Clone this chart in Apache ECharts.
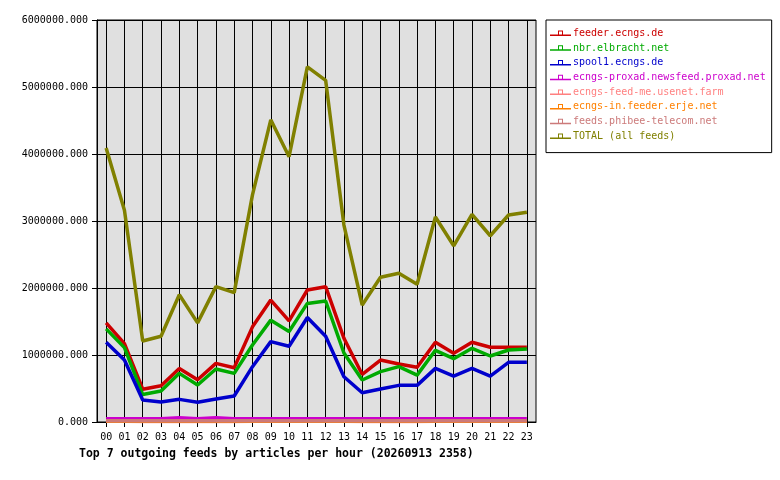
<!DOCTYPE html>
<html>
<head>
<meta charset="UTF-8">
<title>Top 7 outgoing feeds</title>
<script src="https://cdn.jsdelivr.net/npm/echarts@6/dist/echarts.min.js"></script>
<style>
  html, body { margin: 0; padding: 0; background: #fff; }
  #chart { width: 780px; height: 480px; }
</style>
</head>
<body>
<div id="chart"></div>
<script>
// hours of the day
var hours = ['00','01','02','03','04','05','06','07','08','09','10','11',
             '12','13','14','15','16','17','18','19','20','21','22','23'];

// articles per hour
var feederEcngs = [1480000,1170000,490000,540000,800000,630000,875000,810000,1420000,1820000,1510000,1970000,
                   2020000,1250000,710000,925000,866000,816000,1190000,1025000,1190000,1115000,1115000,1115000];
var nbrElbracht = [1390000,1110000,410000,463000,726000,552000,791000,726000,1150000,1520000,1350000,1770000,
                   1806000,1030000,627000,751000,826000,700000,1070000,945000,1100000,985000,1075000,1090000];
var spool1Ecngs = [1190000,925000,328000,300000,338000,294000,343000,388000,826000,1200000,1130000,1560000,
                   1280000,676000,437000,493000,547000,547000,800000,686000,800000,686000,890000,890000];
var proxad      = [50000,50000,50000,50000,65000,50000,65000,50000,50000,50000,50000,50000,
                   50000,50000,50000,50000,50000,50000,50000,50000,50000,50000,50000,50000];
var usenetFarm  = [10000,10000,8000,8000,8000,8000,8000,8000,10000,10000,10000,10000,
                   10000,10000,8000,8000,8000,8000,10000,10000,10000,10000,10000,10000];
var erjeNet     = [12000,12000,10000,10000,10000,10000,10000,10000,12000,12000,12000,12000,
                   12000,12000,10000,10000,10000,10000,12000,12000,12000,12000,12000,12000];
var phibee      = [18000,18000,18000,18000,18000,18000,18000,18000,18000,18000,18000,18000,
                   18000,18000,18000,18000,18000,18000,18000,18000,18000,18000,18000,18000];
var total       = [4090000,3160000,1210000,1280000,1900000,1480000,2020000,1930000,3390000,4510000,3960000,5300000,
                   5100000,2940000,1746000,2160000,2220000,2055000,3060000,2630000,3100000,2780000,3090000,3130000];

var feedNames = ['feeder.ecngs.de','nbr.elbracht.net','spool1.ecngs.de','ecngs-proxad.newsfeed.proxad.net',
                 'ecngs-feed-me.usenet.farm','ecngs-in.feeder.erje.net','feeds.phibee-telecom.net','TOTAL (all feeds)'];
var feedValues = [feederEcngs, nbrElbracht, spool1Ecngs, proxad, usenetFarm, erjeNet, phibee, total];
var feedColors = ['#cc0000','#00aa00','#0000cc','#cc00cc','#ff8080','#ff8000','#cc7a7a','#808000'];

var mono = 'DejaVu Sans Mono';
// legend glyph: line with a small open box sitting on it
var legendIcon = 'path://M0 4H21V5.5H0Z M8 0H13V1H8Z M8 0H9V4H8Z M12 0H13V4H12Z';

var series = feedNames.map(function (name, i) {
    return {
        name: name,
        type: 'line',
        data: feedValues[i],
        symbol: 'none',
        lineStyle: { width: 3.5, color: feedColors[i] },
        itemStyle: { color: feedColors[i] }
    };
});
// empty series so the second x axis (outer tick marks) gets drawn
series.push({ type: 'line', xAxisIndex: 1, data: [], symbol: 'none', silent: true });

var myChart = echarts.init(document.getElementById('chart'));
myChart.setOption({
    animation: false,
    backgroundColor: '#ffffff',
    textStyle: { fontFamily: mono },
    title: {
        text: 'Top 7 outgoing feeds by articles per hour (20260913 2358)',
        left: 74,
        top: 443,
        textStyle: { fontFamily: mono, fontSize: 11.5, fontWeight: 'bold', color: '#000' }
    },
    grid: {
        left: 97, top: 20, right: 244, bottom: 58,
        show: true,
        backgroundColor: '#e0e0e0',
        borderColor: '#000',
        borderWidth: 1
    },
    legend: {
        orient: 'vertical',
        left: 546,
        top: 20,
        padding: [6, 6, 9, 4],
        icon: legendIcon,
        itemWidth: 21,
        itemHeight: 6,
        itemGap: 0,
        backgroundColor: '#fff',
        borderColor: '#000',
        borderWidth: 1,
        borderRadius: 0,
        data: feedNames.map(function (name, i) {
            return { name: name, textStyle: { color: feedColors[i] } };
        }),
        textStyle: { fontFamily: mono, fontSize: 10, lineHeight: 14.7, padding: [0, 0, 0, -3] }
    },
    xAxis: [{
        // vertical grid lines through each hour
        type: 'category',
        data: hours,
        boundaryGap: true,
        axisLine: { lineStyle: { color: '#000', width: 1 } },
        axisTick: { show: true, inside: true, alignWithLabel: true, interval: 0, length: 402, lineStyle: { color: '#000', width: 1 } },
        axisLabel: { fontFamily: mono, fontSize: 10, color: '#000', margin: 10, interval: 0 },
        splitLine: { show: false }
    }, {
        // short tick marks under the axis
        type: 'category',
        data: hours,
        position: 'bottom',
        boundaryGap: true,
        axisLine: { show: false },
        axisLabel: { show: false },
        axisTick: { show: true, alignWithLabel: true, interval: 0, length: 5, lineStyle: { color: '#000', width: 1 } },
        splitLine: { show: false }
    }],
    yAxis: {
        type: 'value',
        min: 0,
        max: 6000000,
        interval: 1000000,
        axisLine: { show: true, lineStyle: { color: '#000', width: 1 } },
        axisTick: { show: true, length: 5, lineStyle: { color: '#000' } },
        axisLabel: {
            fontFamily: mono, fontSize: 10, color: '#000', margin: 9,
            formatter: function (v) { return v.toFixed(3); }
        },
        splitLine: { show: true, lineStyle: { color: '#000', width: 1 } }
    },
    series: series
});
</script>
</body>
</html>
